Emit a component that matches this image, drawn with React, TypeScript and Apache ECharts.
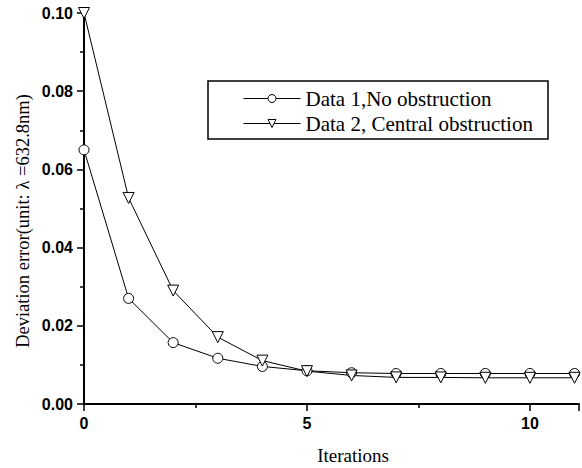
import React, { useEffect, useRef } from "react";
import * as echarts from "echarts";

// Iteration index on the x axis
const iterations = [0, 1, 2, 3, 4, 5, 6, 7, 8, 9, 10, 11];
// Deviation error for each case (unit: λ = 632.8 nm)
const noObstruction = [0.065, 0.027, 0.0157, 0.0117, 0.0096, 0.0085, 0.008, 0.0078, 0.0078, 0.0078, 0.0078, 0.0078];
const centralObstruction = [0.1, 0.0527, 0.029, 0.0171, 0.0111, 0.0084, 0.0073, 0.0068, 0.0068, 0.0067, 0.0067, 0.0067];
const seriesNames = ["Data 1,No obstruction", "Data 2, Central obstruction"];

const SERIF = "'Liberation Serif', 'DejaVu Serif', serif";
const SANS = "'Liberation Sans', Arial, sans-serif";

export default function App() {
  const ref = useRef<HTMLDivElement>(null);

  useEffect(() => {
    if (!ref.current) return;
    const chart = echarts.init(ref.current, null, { renderer: "svg" });
    const pair = (ys: number[]) => iterations.map((x, i) => [x, ys[i]]);
    const lineBase = {
      type: "line" as const,
      lineStyle: { color: "#000", width: 1 },
      itemStyle: { color: "#fff", borderColor: "#000", borderWidth: 1 },
      showAllSymbol: true,
    };
    chart.setOption({
      animation: false,
      backgroundColor: "#fff",
      grid: { left: 84, right: 0, top: 13, bottom: 64 },
      xAxis: {
        type: "value",
        min: 0,
        max: 11.1,
        interval: 5,
        axisLine: { show: true, onZero: false, lineStyle: { color: "#000", width: 2 } },
        axisTick: { show: true, length: 7, lineStyle: { color: "#000", width: 1.5 } },
        minorTick: { show: true, splitNumber: 2, length: 4, lineStyle: { color: "#000", width: 1.5 } },
        splitLine: { show: false },
        axisLabel: {
          margin: 11,
          color: "#000",
          fontFamily: SANS,
          fontWeight: "bold",
          fontSize: 16,
          formatter: (v: number) => (Math.abs(v % 5) < 1e-9 ? String(v) : ""),
        },
      },
      yAxis: {
        type: "value",
        min: 0,
        max: 0.1,
        interval: 0.02,
        axisLine: { show: true, lineStyle: { color: "#000", width: 2 } },
        axisTick: { show: true, length: 7, lineStyle: { color: "#000", width: 1.5 } },
        minorTick: { show: true, splitNumber: 2, length: 4, lineStyle: { color: "#000", width: 1.5 } },
        splitLine: { show: false },
        axisLabel: {
          margin: 11,
          color: "#000",
          fontFamily: SANS,
          fontWeight: "bold",
          fontSize: 16,
          formatter: (v: number) => v.toFixed(2),
        },
      },
      legend: {
        orient: "vertical",
        left: 208,
        top: 81,
        padding: [7, 10, 6, 35],
        itemGap: 4,
        itemWidth: 57,
        itemHeight: 10,
        lineStyle: { width: 1, color: "#000" },
        itemStyle: { color: "#fff", borderColor: "#000", borderWidth: 1 },
        textStyle: { color: "#000", fontFamily: SERIF, fontSize: 21, lineHeight: 21 },
        data: seriesNames,
      },
      graphic: [
        {
          type: "rect",
          shape: { x: 208, y: 81, width: 340, height: 58 },
          style: { fill: "none", stroke: "#000", lineWidth: 1.5 },
          z: 10,
        },
        {
          type: "text",
          x: 23,
          y: 221,
          rotation: Math.PI / 2,
          style: {
            text: "Deviation error(unit: λ =632.8nm)",
            fill: "#000",
            font: `18.5px ${SERIF}`,
            align: "center",
            verticalAlign: "middle",
          },
        },
        {
          type: "text",
          x: 353,
          y: 455,
          style: {
            text: "Iterations",
            fill: "#000",
            font: `19px ${SERIF}`,
            align: "center",
            verticalAlign: "middle",
          },
        },
      ],
      series: [
        {
          ...lineBase,
          name: seriesNames[0],
          symbol: "circle",
          symbolSize: 10,
          data: pair(noObstruction),
        },
        {
          ...lineBase,
          name: seriesNames[1],
          symbol: "triangle",
          symbolRotate: 180,
          symbolSize: 11,
          data: pair(centralObstruction),
        },
      ],
    });
    return () => chart.dispose();
  }, []);

  return (
    <div
      ref={ref}
      style={{ position: "fixed", left: 0, top: 0, width: 582, height: 468, background: "#fff" }}
    />
  );
}
